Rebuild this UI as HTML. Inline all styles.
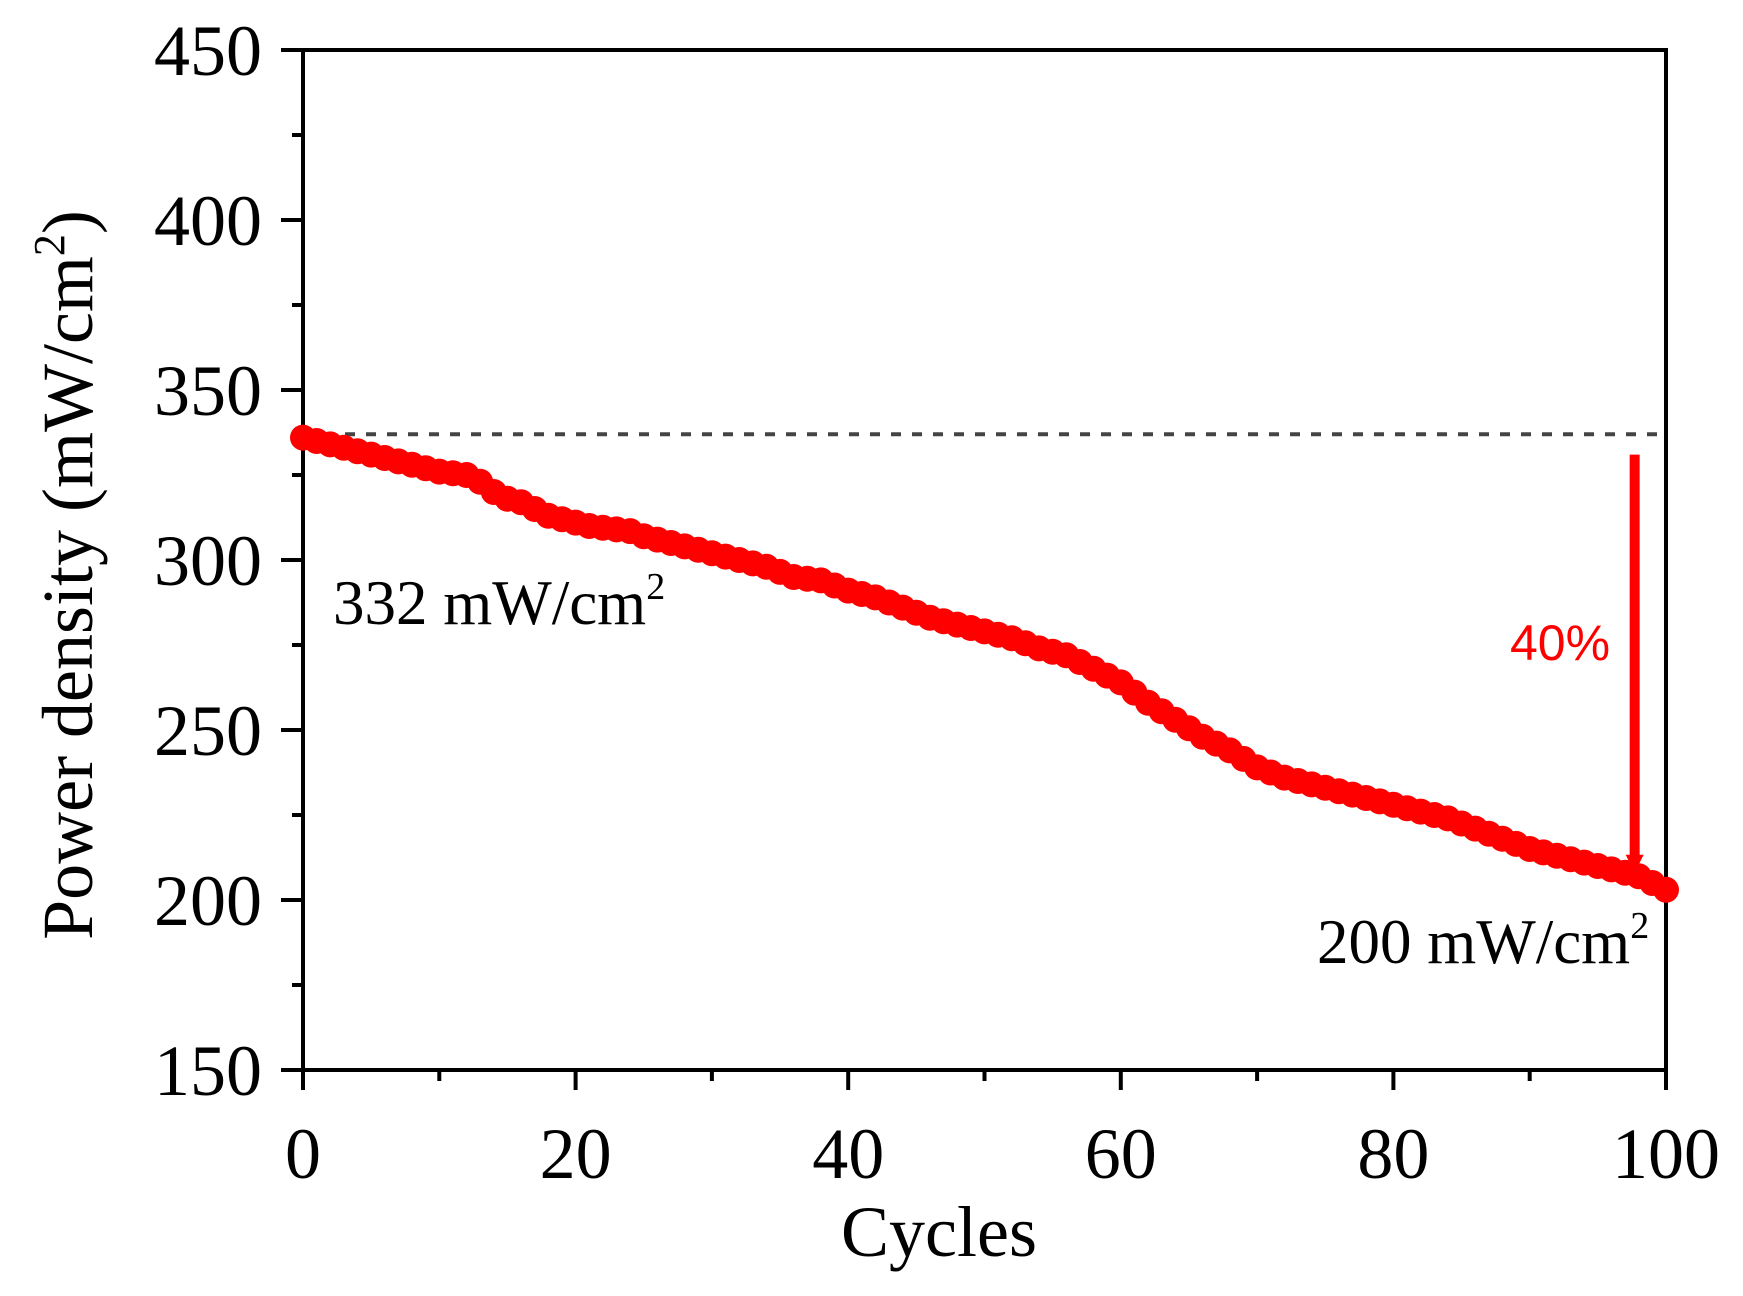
<!DOCTYPE html>
<html><head><meta charset="utf-8"><style>
html,body{margin:0;padding:0;background:#fff;}
svg{display:block;}
</style></head><body>
<svg id="chart" width="1743" height="1296" viewBox="0 0 1743 1296" xmlns="http://www.w3.org/2000/svg" font-family="'Liberation Serif', serif">
<g id="frame"></g>
<g id="marks"></g>
</svg>
<script>
const cycles = [];
for (let i = 0; i <= 100; i++) cycles.push(i);
const powerDensity = [336,335,334,333,332,331,330,329,328,327,326,325.5,325,323,320,318,317,315,313,312,311,310,309.5,309,308.5,307,306,305,304,303,302,301,300,299,298,296.5,295,294.5,294,292.5,291,290,289,287.5,286,284.5,283,282,281,280,279,278,277,275.5,274,273,272,270,268,266,264,261,258,255.5,253,250.5,248,246,244,241.5,239,237.5,236,235,234,233,232,231,230,229,228,227,226,225,224,222.5,221,219.5,218,216.5,215,214,213,212,211,210,209,208,207,205,203];
const xTicks = [0,20,40,60,80,100];
const yTicks = [150,200,250,300,350,400,450];
const xTickLabels = ["0","20","40","60","80","100"];
const yTickLabels = ["150","200","250","300","350","400","450"];
const refLevel = 337;
const arrowCycle = 97.7;
const arrowFrom = 331;
const arrowTo = 208;

const L=303,R=1666,T=50,B=1070;
const X = v => L + (v-0)/100*(R-L);
const Y = v => B - (v-150)/300*(B-T);
const NS="http://www.w3.org/2000/svg";
const svg=document.getElementById('chart');
const frame=document.getElementById('frame');
const marks=document.getElementById('marks');
function mk(tag, attrs, parent, text){
  const e=document.createElementNS(NS,tag);
  for(const k in attrs) e.setAttribute(k,attrs[k]);
  if(text!==undefined) e.textContent=text;
  parent.appendChild(e); return e;
}
let r=mk('rect',{x:L,y:T,width:R-L,height:B-T,fill:'none',stroke:'#000','stroke-width':4},frame);


for(let v=0; v<=100; v+=10){
  const major = v%20===0;
  const t=mk('line',{x1:X(v),x2:X(v),y1:B,y2:B+(major?20:11),stroke:'#000','stroke-width':4},frame);
  
  
}
xTicks.forEach((v,i)=>{
  const t=mk('text',{x:X(v),y:1178,'font-size':72,'text-anchor':'middle',fill:'#000'},frame,xTickLabels[i]);
  
  
});
for(let v=150; v<=450; v+=25){
  const major = v%50===0;
  const t=mk('line',{x1:L-(major?22:11),x2:L,y1:Y(v),y2:Y(v),stroke:'#000','stroke-width':4},frame);
  
  
}
yTicks.forEach((v,i)=>{
  const t=mk('text',{x:262,y:Y(v)+25,'font-size':72,'text-anchor':'end',fill:'#000'},frame,yTickLabels[i]);
  
  
});
let xt=mk('text',{x:939,y:1256,'font-size':72,'text-anchor':'middle',fill:'#000'},frame,'Cycles');


let yt=mk('text',{x:0,y:0,'font-size':72,'text-anchor':'middle',fill:'#000',transform:'translate(92,575) rotate(-90)'},frame);


yt.appendChild(document.createTextNode('Power density (mW/cm'));
mk('tspan',{'font-size':44,dy:-28},yt,'2');
mk('tspan',{dy:28},yt,')');
let dl=mk('line',{x1:X(0),x2:R,y1:Y(refLevel),y2:Y(refLevel),stroke:'#444','stroke-width':4,'stroke-dasharray':'10 11'},marks);


cycles.forEach((c,i)=>{
  const d=mk('circle',{cx:X(c),cy:Y(powerDensity[i]),r:13,fill:'#ff0000'},marks);
  
  
});
const ax=X(arrowCycle);
let al=mk('line',{x1:ax,x2:ax,y1:Y(arrowFrom),y2:Y(arrowTo)-14,stroke:'#ff0000','stroke-width':10},marks);


let ah=mk('polygon',{points:`${ax-9},${Y(arrowTo)-18} ${ax+9},${Y(arrowTo)-18} ${ax},${Y(arrowTo)}`,fill:'#ff0000'},marks);


let pct=mk('text',{x:1560,y:660,'font-size':50,'text-anchor':'middle',fill:'#ff0000','font-family':"'Liberation Sans', sans-serif"},marks,'40%');


function ann(x,y,val,name){
  const t=mk('text',{x:x,y:y,'font-size':63,fill:'#000'},marks);
  
  
  t.appendChild(document.createTextNode(val+' mW/cm'));
  mk('tspan',{'font-size':38,dy:-25},t,'2');
}
ann(333,624,'332','initial-value-label');
ann(1317,963,'200','final-value-label');
</script>
</body></html>
